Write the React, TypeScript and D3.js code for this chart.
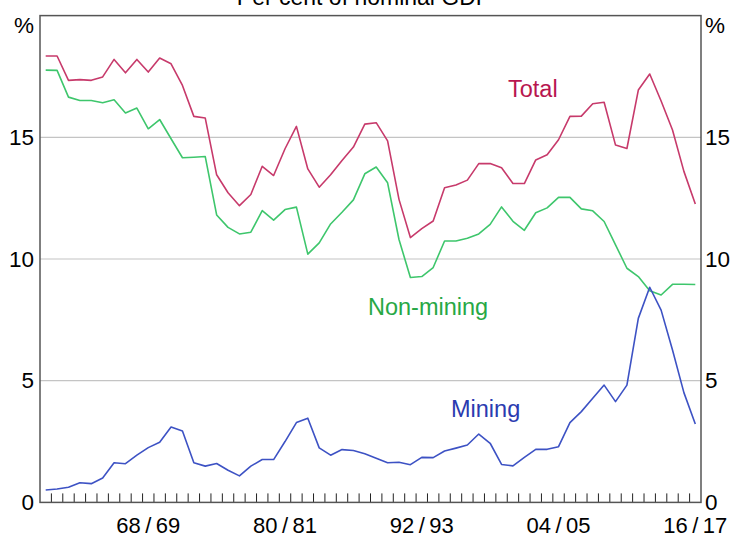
import React from "react";
import * as d3 from "d3";

const years = [
  "59/60","60/61","61/62","62/63","63/64","64/65","65/66","66/67","67/68","68/69",
  "69/70","70/71","71/72","72/73","73/74","74/75","75/76","76/77","77/78","78/79",
  "79/80","80/81","81/82","82/83","83/84","84/85","85/86","86/87","87/88","88/89",
  "89/90","90/91","91/92","92/93","93/94","94/95","95/96","96/97","97/98","98/99",
  "99/00","00/01","01/02","02/03","03/04","04/05","05/06","06/07","07/08","08/09",
  "09/10","10/11","11/12","12/13","13/14","14/15","15/16","16/17",
];

const total = [
  18.34, 18.34, 17.34, 17.37, 17.34, 17.48, 18.2, 17.65, 18.2, 17.68, 18.26, 18.02, 17.13, 15.86, 15.79,
  13.46, 12.72, 12.19, 12.65, 13.81, 13.43, 14.53, 15.45, 13.7, 12.95, 13.46, 14.05, 14.6, 15.54,
  15.6, 14.85, 12.45, 10.88, 11.25, 11.56, 12.93, 13.04, 13.24, 13.92, 13.92, 13.75, 13.1, 13.1,
  14.07, 14.28, 14.9, 15.86, 15.87, 16.38, 16.44, 14.68, 14.54, 16.94, 17.6, 16.49, 15.3, 13.6, 12.26,
];

const nonMining = [
  17.76, 17.75, 16.65, 16.51, 16.51, 16.42, 16.54, 16.0, 16.2, 15.35, 15.73, 14.94, 14.16, 14.18, 14.21,
  11.81, 11.3, 11.03, 11.1, 11.99, 11.6, 12.03, 12.13, 10.2, 10.66, 11.44, 11.92, 12.43, 13.5,
  13.78, 13.13, 10.8, 9.24, 9.28, 9.65, 10.74, 10.74, 10.85, 11.03, 11.42, 12.14, 11.55, 11.18,
  11.9, 12.1, 12.53, 12.53, 12.06, 11.98, 11.54, 10.58, 9.62, 9.28, 8.7, 8.52, 8.96, 8.96, 8.95,
];

const mining = [
  0.51, 0.55, 0.62, 0.81, 0.77, 1.0, 1.63, 1.59, 1.94, 2.25, 2.47, 3.1, 2.93, 1.63, 1.49,
  1.6, 1.32, 1.09, 1.49, 1.76, 1.76, 2.5, 3.28, 3.46, 2.24, 1.94, 2.17, 2.13, 2.0,
  1.81, 1.63, 1.65, 1.55, 1.85, 1.84, 2.11, 2.23, 2.36, 2.81, 2.43, 1.56, 1.5, 1.85,
  2.18, 2.18, 2.29, 3.28, 3.73, 4.28, 4.82, 4.14, 4.82, 7.56, 8.84, 7.9, 6.26, 4.51, 3.22,
];

const xTickLabels = ["68/69", "80/81", "92/93", "04/05", "16/17"];
const yTicks = [0, 5, 10, 15];

const W = 732;
const H = 538;
const L = 40;
const R = 701;
const T = 15.6;
const B = 502.4;
const FONT = "Liberation Sans, Arial, sans-serif";

export default function App() {
  const x = d3.scaleLinear().domain([0, years.length]).range([L, R]);
  const y = d3.scaleLinear().domain([0, 20]).range([B, T]);
  const line = d3
    .line<number>()
    .x((_, i) => x(i + 0.5))
    .y((d) => y(d));

  const series = [
    { data: total, color: "#c73a6b" },
    { data: nonMining, color: "#3ec66c" },
    { data: mining, color: "#3d52c4" },
  ];

  const tickIdx = d3.range(1, years.length);

  return (
    <svg
      width={W}
      height={H}
      style={{ position: "absolute", left: 0, top: 0, background: "#fff" }}
      fontFamily={FONT}
    >
      <text x={364} y={5} fontSize={23} textAnchor="middle" fill="#000">
        Per cent of nominal GDP
      </text>
      {yTicks
        .filter((t) => t > 0)
        .map((t) => (
          <line key={t} x1={L} x2={R} y1={y(t)} y2={y(t)} stroke="#c4c4c4" strokeWidth={1.2} />
        ))}
      {tickIdx.map((k) => (
        <line key={k} x1={x(k)} x2={x(k)} y1={B} y2={B - 9} stroke="#222" strokeWidth={1} />
      ))}
      {series.map((s, i) => (
        <path
          key={i}
          d={line(s.data) || ""}
          fill="none"
          stroke={s.color}
          strokeWidth={1.6}
          strokeLinejoin="round"
        />
      ))}
      <rect x={L} y={T} width={R - L} height={B - T} fill="none" stroke="#555" strokeWidth={1.5} />
      {yTicks.map((t) => (
        <g key={t} fontSize={22.5} fill="#000">
          <text x={34} y={y(t)} textAnchor="end" dominantBaseline="central">
            {t}
          </text>
          <text x={705} y={y(t)} textAnchor="start" dominantBaseline="central">
            {t}
          </text>
        </g>
      ))}
      <text x={34} y={33} textAnchor="end" fontSize={22.5}>%</text>
      <text x={705} y={33} textAnchor="start" fontSize={22.5}>%</text>
      {xTickLabels.map((lab) => {
        const i = years.indexOf(lab);
        const [a, b] = lab.split("/");
        return (
          <text key={lab} x={x(i + 0.5)} y={533} textAnchor="middle" fontSize={22}>
            {a + "\u2009/\u2009" + b}
          </text>
        );
      })}
      <text x={508} y={97} fontSize={23.5} fill="#b8164f">Total</text>
      <text x={368} y={315} fontSize={23.5} fill="#27a845">Non-mining</text>
      <text x={451} y={417} fontSize={23.5} fill="#2b3bb0">Mining</text>
    </svg>
  );
}
